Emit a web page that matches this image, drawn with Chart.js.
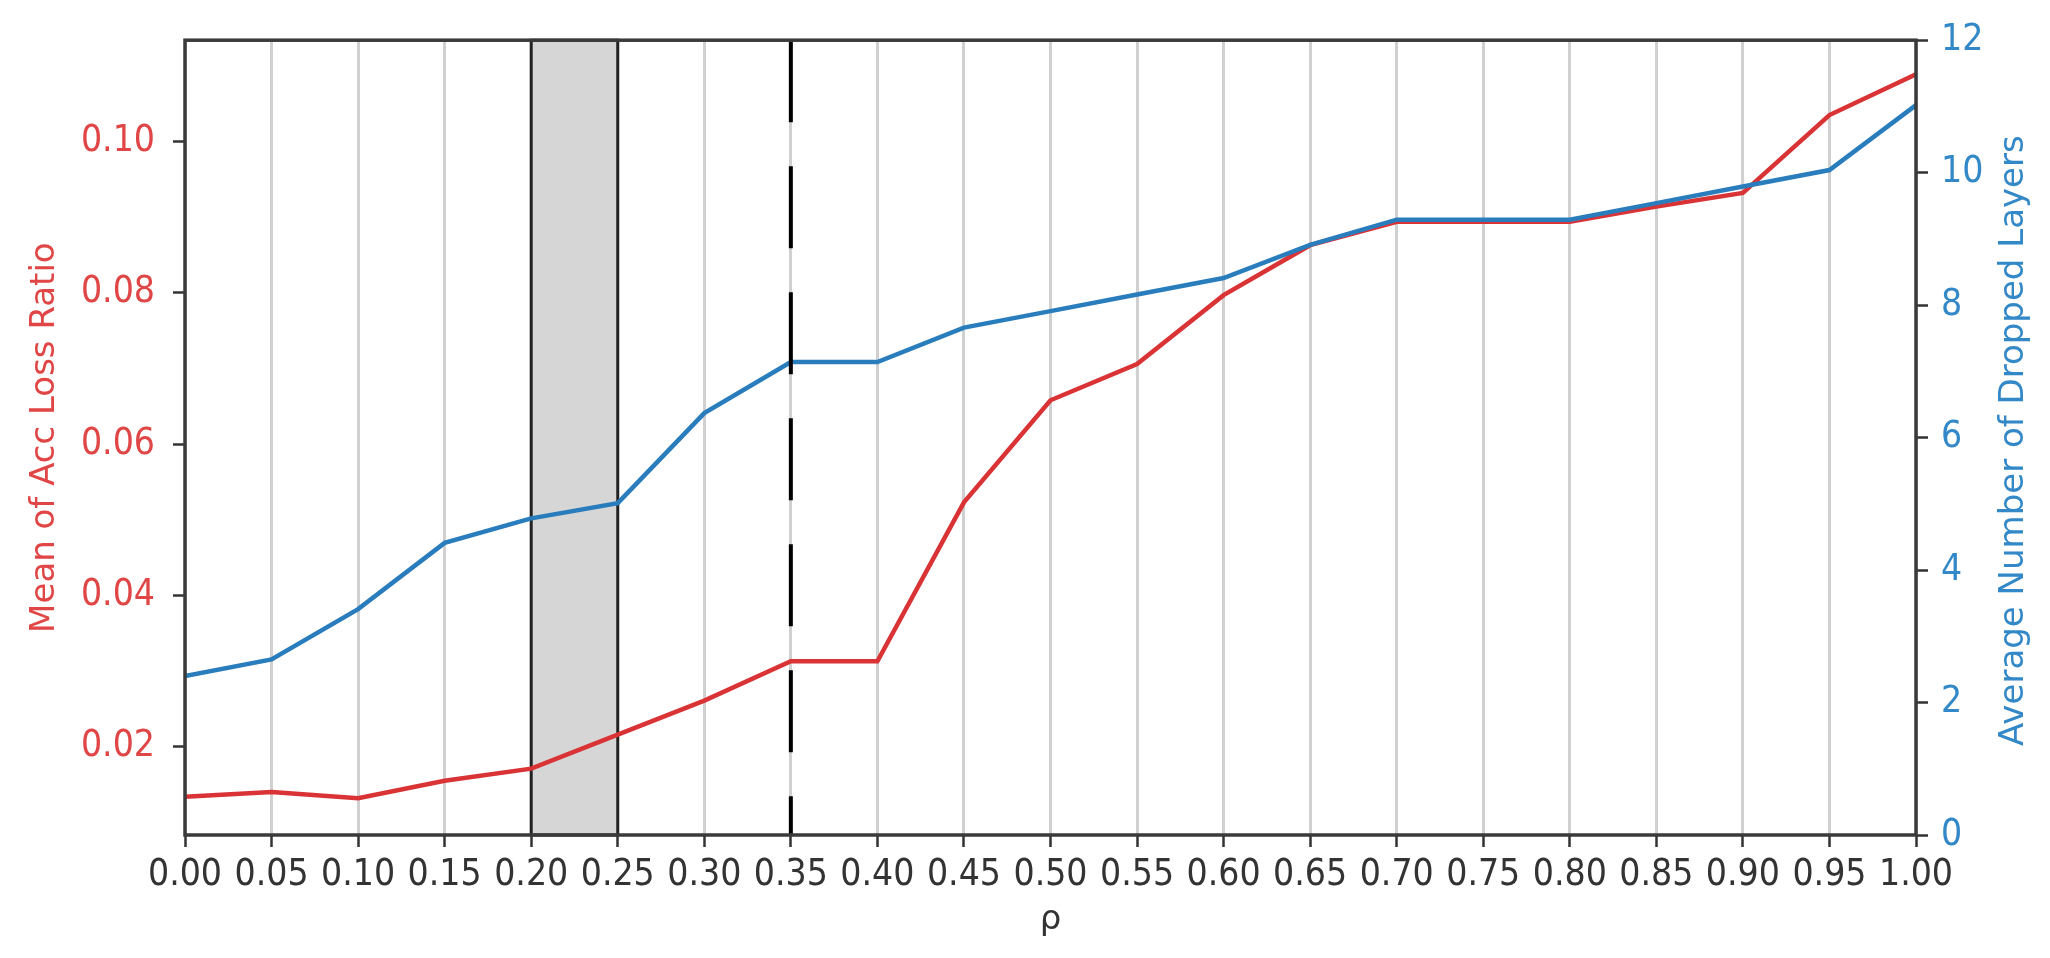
<!DOCTYPE html>
<html>
<head>
<meta charset="utf-8">
<script src="https://cdn.jsdelivr.net/npm/chart.js@4.4.1/dist/chart.umd.min.js"></script>
<style>
  html, body { margin: 0; padding: 0; background: #fff; }
  #wrap { width: 2050px; height: 958px; position: relative; }
</style>
</head>
<body>
<div id="wrap"><canvas id="accChart"></canvas></div>
<script>
// rho values on the x axis (also the tick positions)
const rho = [0.00, 0.05, 0.10, 0.15, 0.20, 0.25, 0.30, 0.35, 0.40, 0.45, 0.50,
             0.55, 0.60, 0.65, 0.70, 0.75, 0.80, 0.85, 0.90, 0.95, 1.00];

// mean of acc loss ratio (left axis, red)
const accLoss = [0.0134, 0.0140, 0.0132, 0.0155, 0.0171, 0.0216, 0.0261, 0.0313, 0.0313, 0.0523, 0.0658,
                 0.0706, 0.0797, 0.0863, 0.0894, 0.0894, 0.0894, 0.0914, 0.0932, 0.1035, 0.1089];

// average number of dropped layers (right axis, blue)
const dropped = [2.40, 2.65, 3.41, 4.41, 4.78, 5.01, 6.37, 7.14, 7.14, 7.66, 7.91,
                 8.16, 8.41, 8.91, 9.29, 9.29, 9.29, 9.54, 9.79, 10.04, 11.02];

const leftTicks = [0.02, 0.04, 0.06, 0.08, 0.10];
const rightTicks = [0, 2, 4, 6, 8, 10, 12];

const shadedBand = [0.20, 0.25];
const dashedAt = 0.35;

const RED = "#d93336";
const BLUE = "#2a7dbd";
const tickFont = '"DejaVu Sans Condensed", "DejaVu Sans", sans-serif';
const titleFont = '"DejaVu Sans", sans-serif';

// shaded interval + dashed marker, placed through the x scale
const markers = {
  id: "markers",
  beforeDatasetsDraw(chart) {
    const { ctx, chartArea: a, scales: { x } } = chart;
    const x0 = x.getPixelForValue(shadedBand[0]);
    const x1 = x.getPixelForValue(shadedBand[1]);
    ctx.save();
    ctx.fillStyle = "#d6d6d6";
    ctx.fillRect(x0, a.top, x1 - x0, a.bottom - a.top);
    ctx.strokeStyle = "#222";
    ctx.lineWidth = 3;
    ctx.strokeRect(x0, a.top, x1 - x0, a.bottom - a.top);
    ctx.restore();
  },
  afterDatasetsDraw(chart) {
    const { ctx, chartArea: a, scales: { x } } = chart;
    const xd = x.getPixelForValue(dashedAt);
    ctx.save();
    ctx.strokeStyle = "#000";
    ctx.lineWidth = 4;
    ctx.setLineDash([82, 44]);
    ctx.beginPath();
    ctx.moveTo(xd, a.top);
    ctx.lineTo(xd, a.bottom);
    ctx.stroke();
    ctx.restore();
  },
  afterDraw(chart) {
    const { ctx, chartArea: a } = chart;
    ctx.save();
    // frame (spines)
    ctx.strokeStyle = "#3a3a3a";
    ctx.lineWidth = 3.5;
    ctx.strokeRect(a.left, a.top, a.right - a.left, a.bottom - a.top);
    // right axis title, reading bottom to top
    ctx.translate(2014, (a.top + a.bottom) / 2 + 3);
    ctx.rotate(-Math.PI / 2);
    ctx.fillStyle = "#3388c8";
    ctx.font = "34px " + titleFont;
    ctx.textAlign = "center";
    ctx.textBaseline = "middle";
    ctx.fillText("Average Number of Dropped Layers", 0, 0);
    ctx.restore();
  }
};

new Chart(document.getElementById("accChart"), {
  type: "line",
  data: {
    datasets: [
      {
        label: "Average Number of Dropped Layers",
        data: rho.map((r, i) => ({ x: r, y: dropped[i] })),
        yAxisID: "y2",
        borderColor: BLUE,
        borderWidth: 4.5,
        pointRadius: 0,
        tension: 0,
        fill: false,
        order: 0
      },
      {
        label: "Mean of Acc Loss Ratio",
        data: rho.map((r, i) => ({ x: r, y: accLoss[i] })),
        yAxisID: "y",
        borderColor: RED,
        borderWidth: 4.5,
        pointRadius: 0,
        tension: 0,
        fill: false,
        order: 1
      }
    ]
  },
  options: {
    responsive: true,
    maintainAspectRatio: false,
    animation: false,
    layout: { padding: { top: 31, left: 0, right: 0, bottom: 0 } },
    plugins: { legend: { display: false }, tooltip: { enabled: false } },
    scales: {
      x: {
        type: "linear",
        min: 0,
        max: 1,
        afterFit: s => { s.height = 123; },
        afterBuildTicks: s => { s.ticks = rho.map(v => ({ value: v })); },
        grid: { color: "#d0d0d0", lineWidth: 3, tickColor: "#333", tickWidth: 2.5, tickLength: 12 },
        border: { display: false },
        ticks: {
          autoSkip: false, maxRotation: 0, padding: 6, color: "#333",
          font: { family: tickFont, size: 37 },
          callback: v => Number(v).toFixed(2)
        },
        title: {
          display: true, text: "ρ", color: "#333",
          font: { family: titleFont, size: 34, lineHeight: 1.2 },
          padding: { top: 0, bottom: 17 }
        }
      },
      y: {
        position: "left",
        min: 0.00833,
        max: 0.1134,
        afterFit: s => { s.width = 185; },
        afterBuildTicks: s => { s.ticks = leftTicks.map(v => ({ value: v })); },
        grid: { drawOnChartArea: false, tickColor: "#333", tickWidth: 2.5, tickLength: 12 },
        border: { display: false },
        ticks: {
          padding: 18, color: "#e04646",
          font: { family: tickFont, size: 37 },
          callback: v => Number(v).toFixed(2)
        },
        title: {
          display: true, text: "Mean of Acc Loss Ratio", color: "#e04646",
          font: { family: titleFont, size: 34, lineHeight: 1.2 },
          padding: { top: 25, bottom: 0 }
        }
      },
      y2: {
        position: "right",
        min: 0,
        max: 12,
        afterFit: s => { s.width = 134; },
        afterBuildTicks: s => { s.ticks = rightTicks.map(v => ({ value: v })); },
        grid: { drawOnChartArea: false, tickColor: "#333", tickWidth: 2.5, tickLength: 12 },
        border: { display: false },
        ticks: {
          padding: 13, color: "#3388c8",
          font: { family: tickFont, size: 37 },
          callback: v => String(v)
        }
      }
    }
  },
  plugins: [markers]
});
</script>
</body>
</html>
